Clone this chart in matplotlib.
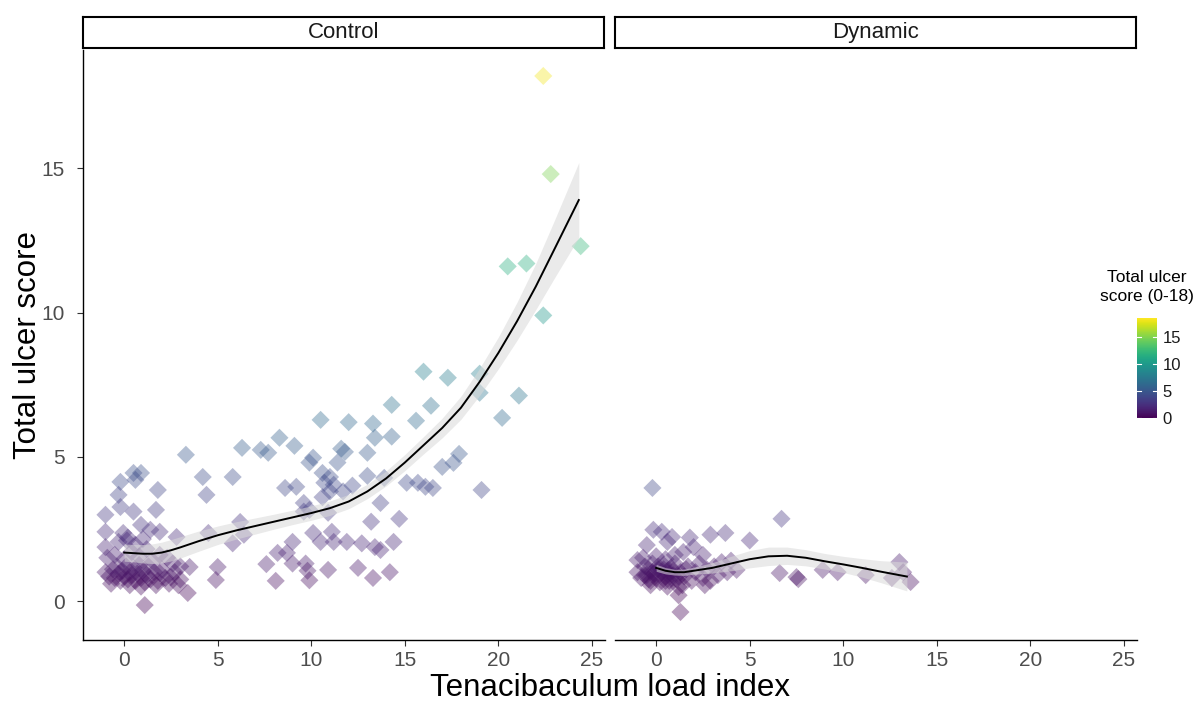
import numpy as np
import matplotlib.pyplot as plt
from matplotlib.colors import Normalize
from matplotlib.cm import ScalarMappable

plt.rcParams['font.family'] = ['Liberation Sans', 'DejaVu Sans']

# ---- data (jittered points) ----
ctrl_x = [22.4, 22.8, 24.4, 20.5, 21.5, 22.4,
          16.0, 17.3, 19.0, 19.0, 16.4, 15.6, 21.1, 20.2, 17.9, 17.6, 17.0, 19.1, 15.7, 16.1, 16.5,
          14.3, 10.5, 12.0, 13.3, 13.4, 14.3, 11.6, 11.8, 13.0, 10.1, 9.9, 11.4, 13.0, 13.9, 15.1,
          10.6, 11.0, 10.7, 11.2, 12.2, 11.0, 11.7, 10.6, 13.7, 9.9, 10.9, 9.6, 14.7, 13.2,
          10.1, 11.1, 10.5, 11.2, 11.9, 12.7, 13.4, 13.7, 14.4, 9.7, 9.8, 10.9, 12.5, 14.2, 13.3, 9.9,
          6.3, 7.3, 7.7, 8.3, 9.1, 5.8, 4.2, 4.4, 8.6, 9.2, 9.6, 6.2, 6.4, 5.8, 4.5, 9.0, 8.2, 8.7,
          7.6, 9.0, 5.0, 4.9, 8.1,
          3.3, -0.2, 0.5, 0.9, 0.6, 1.8, -0.3, -0.2, -1.0, 0.5, 1.7, -1.0, -0.05, 0.9, 1.4, 1.9, 2.8,
          -1.0, -0.3, 0.15, 1.1, 3.4, 3.5, 3.0, 2.5, 1.9,
          -1.0, -0.8, -0.6, -0.5, -0.4, -0.3, -0.2, -0.1, 0.0, 0.1, 0.2, 0.3, 0.4, 0.5, 0.6, 0.7,
          0.8, 0.9, 1.0, 1.1, 1.2, 1.3, 1.4, 1.6, 1.8, 2.0, 2.2, 2.4, 2.7, 3.0,
          -0.9, -0.5, 0.0, 0.4, 0.8, 1.2, 1.5, 1.9, 2.3, 2.6, 0.2, 0.6, 1.0,
          -0.7, 0.3, 0.9, 1.7, 2.9]
ctrl_y = [18.2, 14.8, 12.3, 11.6, 11.7, 9.9,
          7.95, 7.74, 7.88, 7.22, 6.77, 6.25, 7.12, 6.35, 5.10, 4.79, 4.65, 3.85, 4.10, 3.96, 3.92,
          6.8, 6.28, 6.2, 6.15, 5.66, 5.7, 5.28, 5.17, 5.14, 4.97, 4.8, 4.8, 4.34, 4.27, 4.1,
          4.44, 4.3, 4.1, 4.03, 4.0, 3.8, 3.8, 3.6, 3.4, 3.16, 3.06, 3.1, 2.85, 2.75,
          2.36, 2.4, 2.05, 2.05, 2.05, 2.0, 1.87, 1.77, 2.05, 1.3, 1.05, 1.08, 1.15, 1.0, 0.8, 0.72,
          5.31, 5.24, 5.14, 5.66, 5.38, 4.3, 4.3, 3.68, 3.92, 3.96, 3.4, 2.74, 2.3, 2.0, 2.36, 2.05, 1.67, 1.67,
          1.28, 1.3, 1.18, 0.73, 0.7,
          5.07, 4.13, 4.44, 4.44, 4.2, 3.85, 3.68, 3.26, 2.99, 3.1, 3.16, 2.4, 2.36, 2.64, 2.47, 2.4, 2.22,
          1.87, 2.05, 2.1, -0.14, 0.28, 1.18, 1.2, 0.83, 0.97,
          1.0, 0.85, 1.1, 0.8, 1.2, 0.95, 0.7, 1.05, 0.85, 1.2, 0.75, 1.0, 0.9, 1.15, 0.7, 0.95,
          1.25, 0.8, 1.05, 0.65, 0.9, 1.2, 0.75, 1.0, 0.7, 1.1, 0.8, 0.6, 1.0, 0.75,
          1.5, 1.6, 1.45, 1.7, 1.55, 1.8, 1.4, 1.6, 1.5, 1.3, 2.2, 1.95, 2.15,
          0.6, 0.55, 0.5, 0.55, 0.55]

dyn_x = [-0.2, -0.15, 0.3, 0.85, 0.6, -0.5, 2.0, 2.9, 3.7, 2.5, -1.0, 1.2, 1.3, 1.2,
         6.7, 5.0, 4.3, 6.6, 7.5, 7.6, 8.9, 9.7, 11.2, 13.0, 13.2, 13.6, 12.6, 1.8, 1.45,
         -1.0, -0.8, -0.6, -0.5, -0.4, -0.3, -0.2, -0.1, 0.0, 0.1, 0.2, 0.3, 0.4, 0.5, 0.6, 0.7,
         0.8, 0.9, 1.0, 1.1, 1.3, 1.5, 1.7, 1.9, 2.1, 2.3, 2.5, 2.7, 2.9, 3.1, 3.3, 3.5, 3.8, 4.0,
         -0.7, 0.0, 0.5, 1.0, -0.3, 0.6, 1.4, 2.6,
         -0.6, -0.2, 0.2, 0.4, 0.7, 0.9, 1.2, -0.4, 0.1, 0.5, 0.8, 1.6]
dyn_y = [3.92, 2.47, 2.4, 2.22, 2.05, 1.94, 1.87, 2.3, 2.36, 1.6, 1.42, 0.2, -0.38, 0.49,
         2.85, 2.1, 1.08, 0.97, 0.83, 0.76, 1.08, 1.0, 0.9, 1.35, 1.0, 0.66, 0.8, 2.2, 1.7,
         1.0, 0.8, 1.2, 0.9, 1.1, 0.7, 1.3, 0.95, 0.8, 1.1, 0.65, 1.0, 1.25, 0.85, 1.05, 0.7,
         1.15, 0.9, 1.3, 0.75, 1.0, 0.85, 1.2, 0.7, 1.0, 1.3, 0.8, 1.1, 0.7, 1.2, 0.9, 1.35, 1.0, 1.4,
         1.5, 1.55, 1.45, 1.6, 0.55, 0.5, 0.55, 0.55,
         0.9, 1.0, 0.85, 1.1, 0.95, 1.05, 0.85, 0.75, 1.2, 0.7, 0.8, 1.1]

# loess fits with ribbon half-widths
ctrl_fit_x = [0, 0.5, 1, 1.5, 2, 2.5, 3, 3.5, 4, 5, 6, 7, 8, 9, 10, 11, 12, 13, 14,
              15, 16, 17, 18, 19, 20, 21, 22, 23, 24.3]
ctrl_fit_y = [1.68, 1.66, 1.64, 1.64, 1.68, 1.76, 1.86, 1.97, 2.08, 2.28, 2.45, 2.6, 2.75,
              2.9, 3.05, 3.22, 3.45, 3.8, 4.25, 4.8, 5.4, 6.0, 6.7, 7.6, 8.6, 9.7, 10.9,
              12.2, 13.9]
ctrl_fit_se = [0.3, 0.3, 0.32, 0.34, 0.36, 0.37, 0.37, 0.36, 0.35, 0.32, 0.3, 0.28, 0.26,
               0.25, 0.25, 0.25, 0.25, 0.25, 0.26, 0.28, 0.3, 0.34, 0.4, 0.47, 0.55, 0.66,
               0.8, 1.0, 1.3]

dyn_fit_x = [0, 0.5, 1, 1.5, 2, 3, 4, 5, 6, 7, 8, 9, 10, 11, 12, 13.4]
dyn_fit_y = [1.15, 1.05, 1.0, 1.0, 1.05, 1.15, 1.3, 1.45, 1.55, 1.57, 1.5, 1.38, 1.27,
             1.15, 1.02, 0.85]
dyn_fit_se = [0.12, 0.11, 0.1, 0.11, 0.12, 0.18, 0.25, 0.3, 0.32, 0.3, 0.28, 0.27, 0.28,
              0.32, 0.38, 0.5]

facets = ['Control', 'Dynamic']
x_ticks = [0, 5, 10, 15, 20, 25]
y_ticks = [0, 5, 10, 15]
cbar_ticks = [0, 5, 10, 15]

# ---- figure ----
W, H = 1201, 704
fig = plt.figure(figsize=(W / 100, H / 100), dpi=100)

def box(x0, y0, x1, y1):
    return [x0 / W, 1 - y1 / H, (x1 - x0) / W, (y1 - y0) / H]

norm = Normalize(vmin=0, vmax=18.5)
cmap = plt.get_cmap('viridis')
tick_col = '#4d4d4d'

panels = [(83, 605), (615, 1137)]
data = [(ctrl_x, ctrl_y, ctrl_fit_x, ctrl_fit_y, ctrl_fit_se),
        (dyn_x, dyn_y, dyn_fit_x, dyn_fit_y, dyn_fit_se)]

for i, ((x0, x1), (px, py, fx, fy, fse)) in enumerate(zip(panels, data)):
    ax = fig.add_axes(box(x0, 50, x1, 640))
    ax.scatter(px, py, c=py, cmap=cmap, norm=norm, marker='D', s=85,
               alpha=0.38, linewidths=0, zorder=2)
    fx = np.array(fx); fy = np.array(fy); fse = np.array(fse)
    ax.fill_between(fx, fy - fse, fy + fse, color='#d9d9d9', alpha=0.55,
                    linewidth=0, zorder=3)
    ax.plot(fx, fy, color='black', lw=1.4, zorder=4)
    ax.set_xlim(-2.2, 25.7)
    ax.set_ylim(-1.35, 19.1)
    ax.set_xticks(x_ticks)
    ax.set_yticks(y_ticks)
    ax.tick_params(axis='both', length=4, width=0.8, color='#333333',
                   labelcolor=tick_col, labelsize=15)
    ax.tick_params(axis='x', pad=4)
    ax.tick_params(axis='y', pad=9)
    for s in ['top', 'right']:
        ax.spines[s].set_visible(False)
    ax.spines['bottom'].set_linewidth(1.0)
    ax.spines['left'].set_linewidth(1.0)
    if i == 1:
        ax.spines['left'].set_visible(False)
        ax.tick_params(axis='y', left=False, labelleft=False)

    # facet strip
    sax = fig.add_axes(box(x0, 17, x1 - 1, 48))
    sax.set_xticks([]); sax.set_yticks([])
    for s in sax.spines.values():
        s.set_linewidth(1.5)
        s.set_color('black')
    sax.text(0.5, 0.5, facets[i], ha='center', va='center', fontsize=16,
             color='#1a1a1a', transform=sax.transAxes)

fig.text(28 / W, 1 - 345 / H, 'Total ulcer score', rotation=90, ha='center',
         va='center', fontsize=22.5)
fig.text(610 / W, 1 - 688 / H, 'Tenacibaculum load index', ha='center',
         va='center', fontsize=22.5)

# colour bar
cax = fig.add_axes(box(1137, 318, 1157, 418))
cb = fig.colorbar(ScalarMappable(norm=norm, cmap=cmap), cax=cax, ticks=cbar_ticks)
cb.outline.set_visible(False)
cax.tick_params(length=0, labelsize=12, labelcolor='#1a1a1a', pad=4)
for t in cbar_ticks:
    cax.plot([0, 0.2], [t, t], color='white', lw=0.8, transform=cax.get_yaxis_transform())
    cax.plot([0.8, 1.0], [t, t], color='white', lw=0.8, transform=cax.get_yaxis_transform())
fig.text(1147 / W, 1 - 287 / H, 'Total ulcer\nscore (0-18)', ha='center',
         va='center', fontsize=12.5, linespacing=1.3)

fig.savefig('out.png', dpi=100)
